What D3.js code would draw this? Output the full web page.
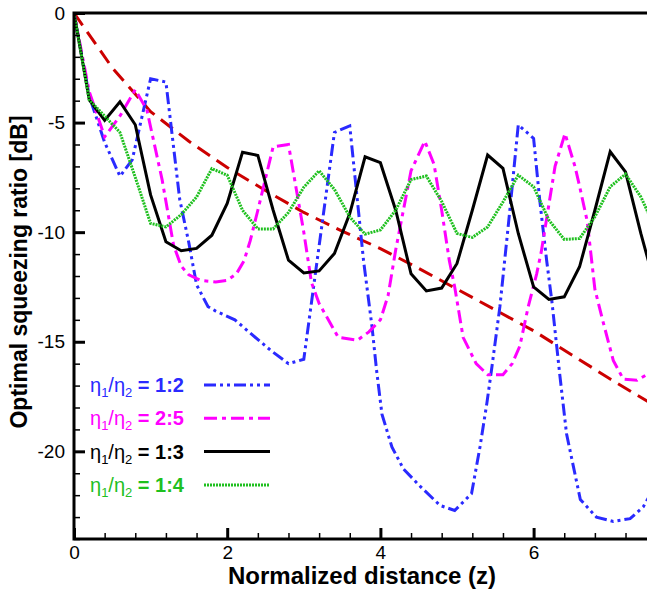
<!DOCTYPE html>
<html>
<head>
<meta charset="utf-8">
<script src="https://cdn.jsdelivr.net/npm/d3@7"></script>
<style>
  body { margin: 0; background: #fff; }
  svg text { font-family: "Liberation Sans", Arial, sans-serif; }
</style>
</head>
<body>
<svg id="chart" width="647" height="593"></svg>
<script>
// values: [z, squeezing dB]
const ratio12 = [[0,0],[0.2,-3.8],[0.4,-5.9],[0.6,-7.45],[0.76,-6.7],[1.0,-3.0],[1.2,-3.15],[1.38,-8.5],[1.5,-10.5],
  [1.6,-12.4],[1.75,-13.4],[1.85,-13.6],[2.1,-14.0],[2.3,-14.6],[2.57,-15.4],[2.8,-16.0],[3.0,-15.8],[3.4,-5.45],
  [3.6,-5.15],[3.78,-11.3],[3.89,-14.3],[3.95,-16.3],[4.02,-18.3],[4.15,-19.8],[4.3,-20.8],[4.52,-21.6],[4.78,-22.47],
  [4.97,-22.7],[5.19,-21.93],[5.3,-19.8],[5.39,-17.8],[5.45,-16.3],[5.56,-13.4],[5.69,-9.0],[5.8,-5.1],[6.0,-5.72],
  [6.08,-8.54],[6.17,-11.28],[6.24,-13.2],[6.34,-16.45],[6.43,-19.2],[6.61,-22.2],[6.82,-23.0],[7.04,-23.2],
  [7.26,-23.07],[7.43,-22.54],[7.55,-21.8]];
const ratio25 = [[0,0],[0.2,-3.6],[0.4,-5.65],[0.6,-4.7],[0.8,-3.5],[0.95,-4.4],[1.05,-6.0],[1.15,-7.6],[1.3,-10.6],
  [1.4,-11.55],[1.5,-11.95],[1.65,-12.2],[1.85,-12.27],[2.0,-12.2],[2.12,-11.9],[2.22,-11.3],[2.3,-10.4],[2.4,-9.0],
  [2.6,-6.1],[2.8,-6.0],[3.0,-10.0],[3.1,-12.3],[3.2,-13.25],[3.45,-14.8],[3.7,-14.93],[3.85,-14.55],[4.0,-14.0],
  [4.1,-12.9],[4.2,-10.8],[4.4,-7.2],[4.58,-5.85],[4.7,-6.9],[4.8,-9.0],[4.9,-11.3],[4.97,-12.5],[5.08,-14.8],
  [5.25,-16.0],[5.4,-16.5],[5.6,-16.5],[5.72,-16.0],[5.82,-15.2],[5.93,-13.4],[6.04,-11.9],[6.1,-10.9],[6.28,-7.0],
  [6.41,-5.5],[6.54,-7.0],[6.6,-7.9],[6.7,-9.5],[6.8,-12.6],[6.9,-14.0],[7.04,-15.85],[7.17,-16.7],[7.35,-16.76],
  [7.5,-16.45]];
const zStep = d3.range(0, 7.61, 0.2);
const ratio13 = [0,-3.97,-4.9,-4.05,-5.1,-8.3,-10.44,-10.85,-10.74,-10.14,-8.69,-6.35,-6.5,-9.0,-11.28,-11.86,
  -11.77,-10.97,-9.15,-6.56,-6.83,-9.0,-11.9,-12.68,-12.55,-11.43,-9.0,-6.48,-7.09,-10.06,-12.5,-13.07,-12.95,
  -11.58,-9.0,-6.33,-7.25,-10.06,-12.6];
const ratio14 = [0,-3.97,-4.7,-5.45,-7.5,-9.6,-9.76,-9.2,-8.4,-7.1,-7.4,-9.0,-9.85,-9.85,-9.1,-7.95,-7.2,-8.05,
  -9.3,-10.09,-9.9,-9.0,-7.6,-7.44,-8.6,-10.06,-10.24,-9.76,-8.62,-7.4,-7.93,-9.45,-10.33,-10.29,-9.3,-7.93,
  -7.35,-8.39,-9.9];
const zRef = [0,0.5,1.0,1.5,2.0,2.5,3.0,3.5,4.0,4.5,5.0,5.5,6.0,6.5,7.0,7.5];
const reference = [0,-2.5,-4.5,-5.85,-7.05,-8.1,-9.1,-9.95,-10.75,-11.65,-12.6,-13.55,-14.5,-15.6,-16.7,-17.75];

const xMajor = [0, 2, 4, 6];
const yMajor = [0, -5, -10, -15, -20];
const legendLabels = ["1:2", "2:5", "1:3", "1:4"];

const svg = d3.select("#chart");
const mLeft = 74, mRight = 648.5, mTop = 13, mBottom = 539;

const x = d3.scaleLinear().domain([0, 7.5]).range([mLeft, mRight]);
const y = d3.scaleLinear().domain([-24, 0]).range([mBottom, mTop]);

svg.append("clipPath").attr("id", "plotclip")
  .append("rect").attr("x", mLeft).attr("y", mTop).attr("width", mRight - mLeft).attr("height", mBottom - mTop);

//series definitions
const series = [
  { data: ratio12, color: "#2a2aff", dash: "12,4,3,4,3,4" },
  { data: ratio25, color: "#ff00ff", dash: "13,5,4,5" },
  { data: zStep.map((z, i) => [z, ratio13[i]]), color: "#000000", dash: null },
  { data: zStep.map((z, i) => [z, ratio14[i]]), color: "#1fc01f", dash: "2,1" }
];

const line = d3.line().x(d => x(d[0])).y(d => y(d[1]));

const plot = svg.append("g").attr("clip-path", "url(#plotclip)");

plot.append("path")
  .datum(zRef.map((z, i) => [z, reference[i]]))
  .attr("d", line)
  .attr("fill", "none")
  .attr("stroke", "#cc0000")
  .attr("stroke-width", 3)
  .attr("stroke-dasharray", "15,8");

series.forEach(s => {
  plot.append("path")
    .datum(s.data)
    .attr("d", line)
    .attr("fill", "none")
    .attr("stroke", s.color)
    .attr("stroke-width", 3)
    .attr("stroke-linejoin", "miter")
    .attr("stroke-dasharray", s.dash);
});

// axes, ticks pointing inward
const xMinor = d3.range(0, 7.5, 0.4).filter(v => !xMajor.some(m => Math.abs(m - v) < 1e-6));
const yMinor = d3.range(-24, 0.5, 1).filter(v => !yMajor.includes(v));

svg.append("g").attr("transform", `translate(0,${mBottom})`)
  .call(d3.axisBottom(x).tickValues(xMinor).tickSize(-6).tickFormat(""))
  .call(g => g.select(".domain").remove())
  .call(g => g.selectAll("line").attr("stroke-width", 1.5));
const xAx = svg.append("g").attr("transform", `translate(0,${mBottom})`)
  .call(d3.axisBottom(x).tickValues(xMajor).tickSize(-11).tickPadding(7).tickFormat(d3.format("d")));
xAx.select(".domain").remove();
xAx.selectAll("line").attr("stroke-width", 3);
xAx.selectAll("text").attr("font-size", 19).attr("fill", "#000");

svg.append("g").attr("transform", `translate(${mLeft},0)`)
  .call(d3.axisLeft(y).tickValues(yMinor).tickSize(-6).tickFormat(""))
  .call(g => g.select(".domain").remove())
  .call(g => g.selectAll("line").attr("stroke-width", 1.5));
const yAx = svg.append("g").attr("transform", `translate(${mLeft},0)`)
  .call(d3.axisLeft(y).tickValues(yMajor).tickSize(-11).tickPadding(9).tickFormat(d3.format("d")));
yAx.select(".domain").remove();
yAx.selectAll("line").attr("stroke-width", 3);
yAx.selectAll("text").attr("font-size", 19).attr("fill", "#000").text(d => d === 0 ? "0" : String(d));

// frame
svg.append("rect")
  .attr("x", mLeft).attr("y", mTop).attr("width", mRight - mLeft).attr("height", mBottom - mTop)
  .attr("fill", "none").attr("stroke", "#000").attr("stroke-width", 3);

// axis titles
svg.append("text")
  .attr("x", 362).attr("y", 584)
  .attr("text-anchor", "middle")
  .attr("font-size", 24).attr("font-weight", "bold")
  .text("Normalized distance (z)");
svg.append("text")
  .attr("transform", "translate(27,272) rotate(-90)")
  .attr("text-anchor", "middle")
  .attr("font-size", 23).attr("font-weight", "bold")
  .text("Optimal squeezing ratio [dB]");

// legend
const legend = svg.append("g");
series.forEach((s, i) => {
  const ly = 385 + i * 33.3;
  const t = legend.append("text")
    .attr("x", 90).attr("y", ly + 7)
    .attr("font-size", 20).attr("fill", s.color);
  t.append("tspan").text("η");
  t.append("tspan").attr("font-size", 13).attr("dy", 5).text("1");
  t.append("tspan").attr("dy", -5).text("/η");
  t.append("tspan").attr("font-size", 13).attr("dy", 5).text("2");
  t.append("tspan").attr("dy", -5).attr("font-weight", "bold").text(" = " + legendLabels[i]);
  legend.append("line")
    .attr("x1", 204).attr("x2", 270).attr("y1", ly).attr("y2", ly)
    .attr("stroke", s.color).attr("stroke-width", 3)
    .attr("stroke-dasharray", s.dash);
});
</script>
</body>
</html>
